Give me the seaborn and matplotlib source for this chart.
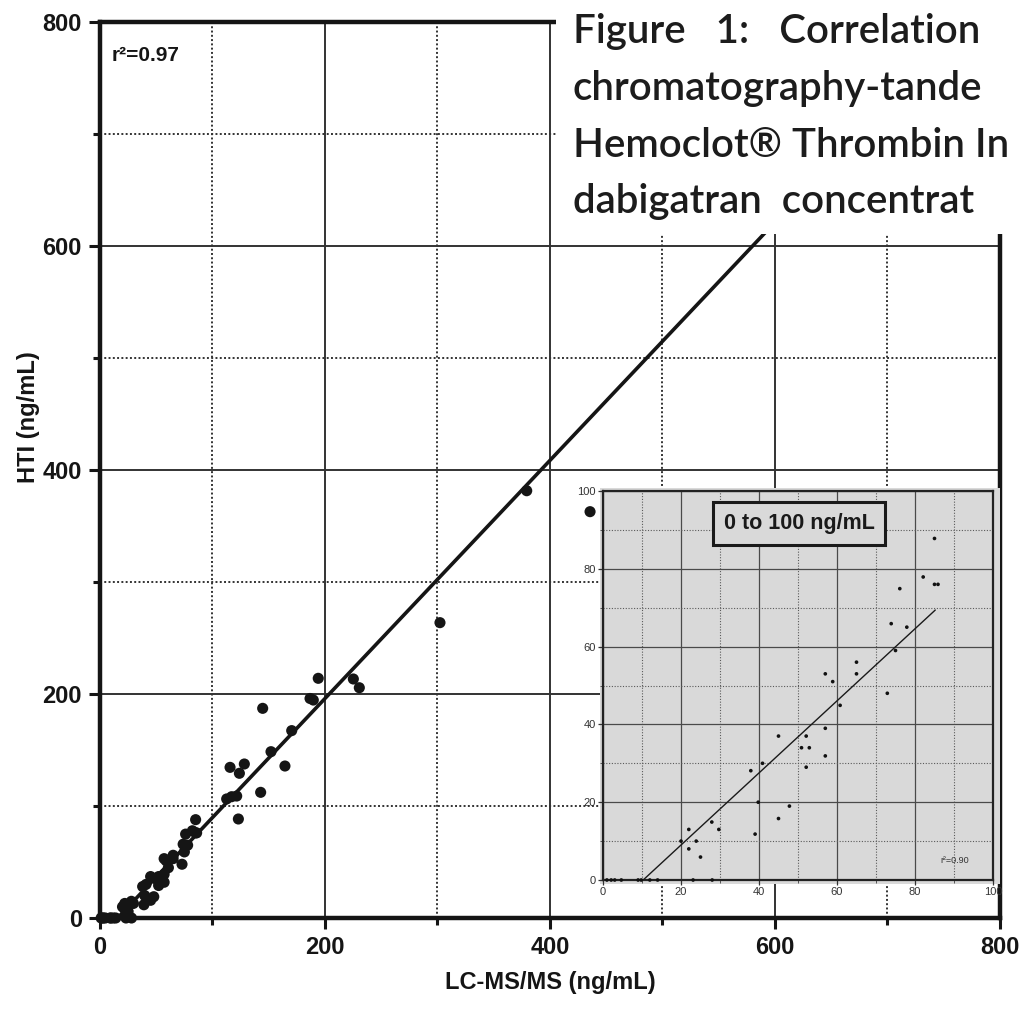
import numpy as np
import pandas as pd
import matplotlib
matplotlib.use("Agg")
import matplotlib.pyplot as plt
import seaborn as sns
from matplotlib.patches import Rectangle
from matplotlib.ticker import MultipleLocator

# ---------------- data ----------------
# samples in the 0-100 ng/mL range (shown in main plot and in the inset)
low_lcms = [1.0, 2.1, 3.0, 4.7, 9.0, 9.8, 12.0, 14.0, 23.1, 28.0,
            20.0, 22.0, 22.0, 23.9, 25.0, 27.9, 29.7, 39.0, 37.9, 40.9,
            39.8, 45.0, 47.8, 45.0, 50.9, 52.9, 52.1, 52.1, 57.0, 57.0,
            57.0, 58.9, 60.8, 65.0, 65.0, 72.9, 73.9, 75.0, 77.9, 76.1,
            82.1, 85.0, 85.9, 85.0]
low_hti = [0, 0, 0, 0, 0, 0, 0, 0, 0, 0,
           10.0, 13.0, 8.0, 10.0, 5.9, 14.9, 13.0, 11.8, 28.1, 30.0,
           20.0, 15.8, 19.0, 37.0, 34.0, 34.0, 37.0, 29.0, 53.0, 39.0,
           31.9, 51.0, 44.9, 56.0, 53.0, 48.0, 65.9, 59.0, 65.0, 74.9,
           77.9, 76.0, 76.0, 87.8]
# samples above 100 ng/mL (main plot only)
high_lcms = [112.6, 117.0, 121.5, 123.0, 115.6, 123.9, 128.3, 142.8, 144.6, 152.0,
             164.4, 170.4, 186.7, 189.6, 194.0, 225.2, 230.5, 302.2, 379.3, 435.6]
high_hti = [106.3, 108.3, 108.9, 88.4, 134.5, 129.2, 137.5, 112.2, 187.2, 148.5,
            135.7, 167.3, 196.0, 194.6, 214.0, 213.4, 205.6, 263.7, 381.5, 362.8]

# regression lines (end points)
main_fit_x = [16.0, 760.0]
main_fit_y = [0.4, 791.3]
inset_fit_x = [10.3, 85.2]
inset_fit_y = [0.0, 69.4]

main_ticks = [0, 200, 400, 600, 800]
inset_ticks = [0, 20, 40, 60, 80, 100]
main_r2 = "r\u00b2=0.97"
inset_r2 = "r\u00b2=0.90"
inset_title = "0 to 100 ng/mL"
x_label = "LC-MS/MS (ng/mL)"
y_label = "HTI (ng/mL)"
caption_lines = ["Figure   1:   Correlation",
                 "chromatography-tande",
                 "Hemoclot\u00ae Thrombin In",
                 "dabigatran  concentrat"]

# ---------------- style ----------------
sns.set_theme(style="ticks")
plt.rcParams["font.family"] = ["Liberation Sans Narrow", "Liberation Sans", "DejaVu Sans"]

W, H = 1019, 1015
fig = plt.figure(figsize=(W / 100, H / 100), dpi=100)
fig.patch.set_facecolor("white")


def px_rect(x0, y0, x1, y1):
    return [x0 / W, 1 - y1 / H, (x1 - x0) / W, (y1 - y0) / H]


ink = "#151515"

# ---------------- main axes ----------------
ax = fig.add_axes(px_rect(100, 22, 1000, 918), zorder=0)
ax.set_facecolor("white")
ax.set_xlim(0, 800)
ax.set_ylim(0, 800)
ax.set_xticks(main_ticks)
ax.set_yticks(main_ticks)
ax.xaxis.set_minor_locator(MultipleLocator(100))
ax.yaxis.set_minor_locator(MultipleLocator(100))
ax.grid(which="major", color="#333333", lw=1.4, ls="-")
ax.grid(which="minor", color="#333333", lw=1.4, ls=(0, (1, 1.2)))
ax.set_axisbelow(True)
for s in ax.spines.values():
    s.set_linewidth(3.2)
    s.set_color(ink)
ax.tick_params(which="major", direction="out", length=8, width=2.2, color=ink,
               labelsize=17, labelcolor=ink, pad=5)
ax.tick_params(which="minor", direction="out", length=5, width=2.2, color=ink)
for lab in ax.get_xticklabels() + ax.get_yticklabels():
    lab.set_fontweight("bold")

main_df = pd.DataFrame({"lcms": low_lcms + high_lcms, "hti": low_hti + high_hti})
sns.lineplot(x=main_fit_x, y=main_fit_y, ax=ax, color=ink, lw=2.6, zorder=3)
sns.scatterplot(data=main_df, x="lcms", y="hti", ax=ax, color=ink, s=64,
                edgecolor="none", linewidth=0, clip_on=False, zorder=4)

ax.set_xlabel(x_label, fontsize=17, fontweight="bold", color=ink)
ax.set_ylabel(y_label, fontsize=17, fontweight="bold", color=ink)
ax.xaxis.set_label_coords(0.5, -0.072)
ax.xaxis.label.set_va("center")
ax.yaxis.set_label_coords(-0.08, 0.559)
ax.yaxis.label.set_va("center")
ax.text(0.013, 0.963, main_r2, transform=ax.transAxes, fontsize=15,
        fontweight="bold", va="center", ha="left", color=ink)

# ---------------- inset ----------------
gray = "#d9d9d9"
fig.add_artist(Rectangle((600 / W, 1 - 884 / H), 400 / W, 396 / H,
                         transform=fig.transFigure, facecolor=gray,
                         edgecolor="none", zorder=1.5))
axi = fig.add_axes(px_rect(603, 491, 993, 880), zorder=2)
axi.set_facecolor(gray)
axi.set_xlim(0, 100)
axi.set_ylim(0, 100)
axi.set_xticks(inset_ticks)
axi.set_yticks(inset_ticks)
axi.xaxis.set_minor_locator(MultipleLocator(10))
axi.yaxis.set_minor_locator(MultipleLocator(10))
axi.grid(which="major", color="#4a4a4a", lw=0.9, ls="-")
axi.grid(which="minor", color="#5a5a5a", lw=0.8, ls=(0, (1, 1.5)))
axi.set_axisbelow(True)
for s in axi.spines.values():
    s.set_linewidth(1.6)
    s.set_color("#222222")
axi.tick_params(which="major", direction="out", length=3.5, width=0.9, color="#333333",
                labelsize=8, labelcolor="#333333", pad=1.5)
axi.tick_params(which="minor", direction="out", length=2, width=0.7, color="#555555")
for lab in axi.get_xticklabels() + axi.get_yticklabels():
    lab.set_fontfamily(["Liberation Sans", "DejaVu Sans"])

inset_df = pd.DataFrame({"lcms": low_lcms, "hti": low_hti})
sns.lineplot(x=inset_fit_x, y=inset_fit_y, ax=axi, color="#1a1a1a", lw=1.0, zorder=3)
sns.scatterplot(data=inset_df, x="lcms", y="hti", ax=axi, color="#111111", s=7,
                edgecolor="none", linewidth=0, clip_on=False, zorder=4)
axi.set_xlabel("")
axi.set_ylabel("")
axi.text(50.3, 91.6, inset_title, ha="center", va="center", fontsize=15.5,
         fontweight="bold", color="#1a1a1a", family=["Liberation Sans", "DejaVu Sans"],
         bbox=dict(boxstyle="square,pad=0.5", fc=gray, ec="#1a1a1a", lw=2.2))
axi.text(86.5, 5.0, inset_r2, ha="left", va="center", fontsize=6.5, color="#333333",
         family=["Liberation Sans", "DejaVu Sans"])

# ---------------- caption fragment (top right) ----------------
axt = fig.add_axes(px_rect(556, 0, 1019, 234), zorder=3)
axt.set_facecolor("white")
axt.set_xticks([])
axt.set_yticks([])
for s in axt.spines.values():
    s.set_visible(False)
baselines = [43, 100, 157, 213]
for line, b in zip(caption_lines, baselines):
    axt.text((573 - 556) / 463, 1 - b / 234, line, transform=axt.transAxes,
             fontsize=29, fontweight="semibold", family=["Lato", "Open Sans", "DejaVu Sans"],
             color="#1c1c1c", ha="left", va="baseline", clip_on=True)

fig.savefig("out.png", dpi=100, facecolor="white")
